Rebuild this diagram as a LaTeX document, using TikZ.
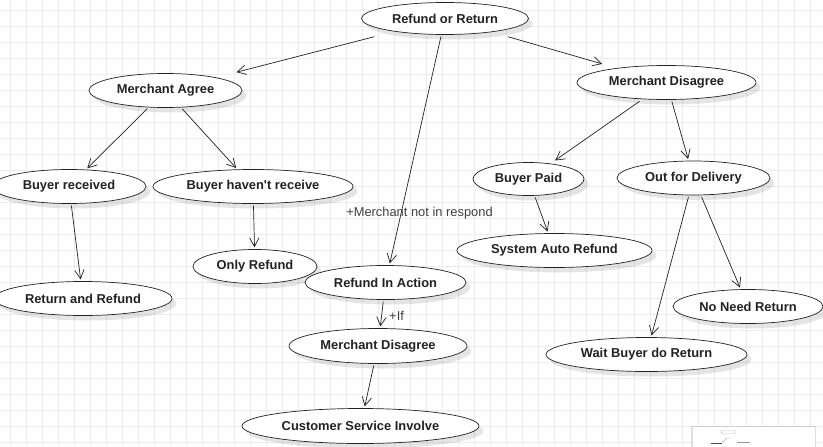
\documentclass[tikz,border=0pt]{standalone}
\usepackage{fontspec}
\setmainfont{Liberation Sans}
\usepackage{tikz}
\usetikzlibrary{positioning,shapes.geometric,arrows.meta,shadows}
\usepackage{xcolor}
\definecolor{gridline}{RGB}{236,236,236}
\definecolor{ink}{RGB}{34,34,34}

\begin{document}
\begin{tikzpicture}[x=0.03cm, y=-0.03cm,
    oval/.style={ellipse, draw=ink, line width=0.6pt, fill=white, inner sep=0pt,
        minimum height=1.02cm, text=ink,
        font=\fontsize{11pt}{13pt}\selectfont\bfseries,
        drop shadow={shadow xshift=0.13cm, shadow yshift=-0.15cm, fill=black, opacity=0.1}},
    link/.style={-{Straight Barb[length=7.5pt,width=8pt]}, line width=0.6pt, draw=ink,
        shorten <=1.5pt, shorten >=1.5pt},
    note/.style={inner sep=0pt, text=black!75, font=\fontsize{11pt}{13pt}\selectfont}]
        \useasboundingbox (0,0) rectangle (823,446);

        % Background grid
        \fill[white] (0,0) rectangle (823,446);
        \foreach \x in {10.5,26.5,...,822}
            \draw[gridline, line width=0.5pt] (\x,0) -- (\x,446);
        \foreach \y in {10.5,26.5,...,445}
            \draw[gridline, line width=0.5pt] (0,\y) -- (823,\y);

        % Top request
        \node[oval, minimum width=5.01cm, minimum height=0.96cm] (refund) at (445,18.5) {Refund or Return};

        % Merchant agrees
        \node[oval, minimum width=4.59cm] (agree) at (165.5,90.5) {Merchant Agree};
        \node[oval, minimum width=4.62cm] (received) at (69,186.5) {Buyer received};
        \node[oval, minimum width=6.0cm] (notrecv) at (253,186.5) {Buyer haven\textquotesingle t receive};
        \node[oval, minimum width=3.72cm] (onlyref) at (255,266.5) {Only Refund};
        \node[oval, minimum width=5.34cm] (retref) at (83,298.5) {Return and Refund};

        % Merchant does not respond
        \node[oval, minimum width=4.83cm] (inaction) at (385.5,282.5) {Refund In Action};
        \node[oval, minimum width=5.34cm, minimum height=1.05cm] (disagreeb) at (378,346) {Merchant Disagree};
        \node[oval, minimum width=7.11cm, minimum height=1.05cm] (service) at (360.5,426) {Customer Service Involve};

        % Merchant disagrees
        \node[oval, minimum width=5.37cm] (disagree) at (666.5,82.5) {Merchant Disagree};
        \node[oval, minimum width=3.33cm, minimum height=0.99cm] (paid) at (528.5,179) {Buyer Paid};
        \node[oval, minimum width=4.59cm] (delivery) at (693.5,178) {Out for Delivery};
        \node[oval, minimum width=5.85cm] (autoref) at (554.5,250.5) {System Auto Refund};
        \node[oval, minimum width=4.5cm] (noneed) at (748,306.5) {No Need Return};
        \node[oval, minimum width=6.03cm] (waitret) at (646.5,354.5) {Wait Buyer do Return};

        % Connectors
        \draw[link, shorten <=0.62cm, shorten >=0.63cm] (refund) -- (agree);
        \draw[link, shorten <=0.5cm, shorten >=0.45cm] (refund) -- (disagree);
        \draw[link] (refund) -- (inaction);
        \draw[link] (agree) -- (received);
        \draw[link] (agree) -- (notrecv);
        \draw[link] (received) -- (retref);
        \draw[link] (notrecv) -- (onlyref);
        \draw[link] (inaction) -- (disagreeb);
        \draw[link] (disagreeb) -- (service);
        \draw[link, shorten <=0.11cm, shorten >=0.16cm] (disagree) -- (paid);
        \draw[link] (disagree) -- (delivery);
        \draw[link] (paid) -- (autoref);
        \draw[link] (delivery) -- (waitret);
        \draw[link] (delivery) -- (noneed);

        % Connector labels
        \node[note] (norespond) at (419.5,213.5) {+Merchant not in respond};
        \node[note, anchor=west] (ifcase) at (389,315.5) {+If};

        % Overview panel (bottom right)
        \fill[white, drop shadow={shadow xshift=0pt, shadow yshift=0pt, fill=black, opacity=0.12,
            shadow scale=1.02}] (692.7,426.7) rectangle (815,452);
        \draw[black!25, line width=0.4pt, rounded corners=1pt] (721,430.5) rectangle (736,433.5);
        \draw[black!70, line width=0.6pt] (710.7,443) -- (721.7,443);
        \draw[black!40, line width=0.3pt] (721.7,443) -- (727,438) -- (731,438);
        \draw[black!40, line width=0.3pt] (737,442) -- (750,442);
\end{tikzpicture}
\end{document}
